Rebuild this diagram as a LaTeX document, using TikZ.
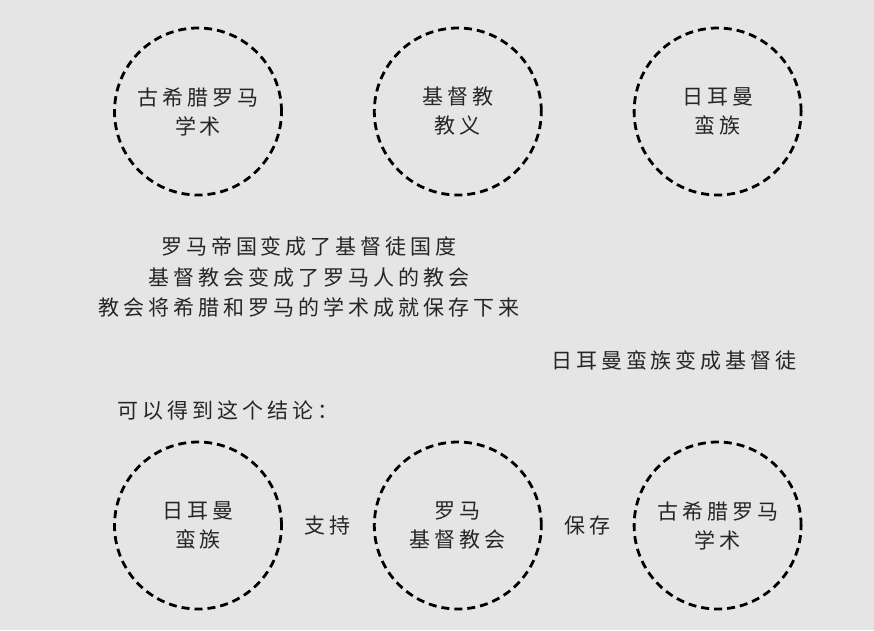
\documentclass[tikz,border=0pt]{standalone}
\usepackage{fontspec}
\setmainfont{Noto Sans CJK SC}
\newfontfamily\cjk[LetterSpace=19]{Noto Sans CJK SC}
\usetikzlibrary{positioning,calc}

\definecolor{paper}{HTML}{E5E5E5}
\definecolor{ink}{HTML}{262626}

\begin{document}
\begin{tikzpicture}[x=1pt,y=-1pt,node distance=90pt,
                    idea/.style={circle, draw=black, dash pattern=on 8pt off 5pt,
                      line width=2.8pt, minimum size=167pt, inner sep=0pt,
                      align=center, text=ink, font=\cjk\fontsize{21}{29}\selectfont},
                    note/.style={text=ink, inner sep=0pt, font=\cjk\fontsize{21}{30.5}\selectfont}]
  \fill[paper] (0,0) rectangle (874,630);
  \useasboundingbox (0,0) rectangle (874,630);
  % top row
  \node[idea] (greek)   at (198,111.5) {古希腊罗马\\学术};
  \node[idea, right=of greek]  (faith)  {基督教\\教义};
  \node[idea, right=of faith]  (german) {日耳曼\\蛮族};
  % what happened
  \node[note, align=center] (story) at (309,277) {罗马帝国变成了基督徒国度\\基督教会变成了罗马人的教会\\教会将希腊和罗马的学术成就保存下来};
  \node[note] (convert) at (674,360) {日耳曼蛮族变成基督徒};
  \node[note, anchor=west] (result) at (117,411) {可以得到这个结论：};
  % bottom row
  \node[idea] (tribes)  at (198,525.5) {日耳曼\\蛮族};
  \node[idea, right=of tribes] (church) {罗马\\基督教会};
  \node[idea, right=of church] (learning) {古希腊罗马\\学术};
  \node[note] (support) at ($(tribes)!0.5!(church)$) {支持};
  \node[note] (keep)    at ($(church)!0.5!(learning)$) {保存};
\end{tikzpicture}
\end{document}
